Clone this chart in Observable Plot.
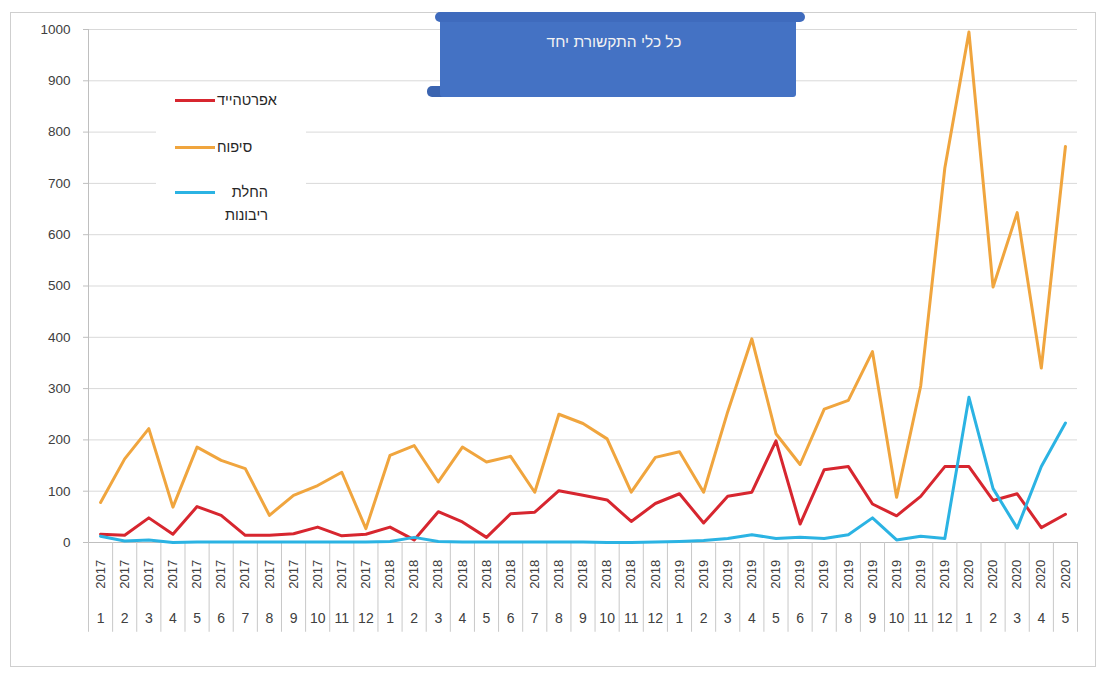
<!DOCTYPE html>
<html>
<head>
<meta charset="utf-8">
<script src="https://cdn.jsdelivr.net/npm/d3@7"></script>
<script src="https://cdn.jsdelivr.net/npm/@observablehq/plot@0.6"></script>
<style>
  body { margin: 0; background: #ffffff; }
  #wrap { position: relative; width: 1099px; height: 679px; overflow: hidden; font-family: "Liberation Sans", Arial, sans-serif; }
  #frame { position: absolute; left: 10px; top: 12px; width: 1086px; height: 655px; border: 1px solid #cfcfcf; box-sizing: border-box; }
  #chart { position: absolute; left: 0; top: 0; }
  #legend { position: absolute; left: 156px; top: 86px; width: 150px; height: 142px; background: #ffffff; }
  .lg-line { position: absolute; height: 3px; width: 40px; }
  .lg-text { position: absolute; direction: rtl; font-size: 14.5px; color: #262626; line-height: 23px; }
  #banner { position: absolute; left: 0; top: 0; }
</style>
</head>
<body>
<div id="wrap">
  <div id="frame"></div>
  <div id="chart"></div>
  <div id="legend"></div>
  <svg id="banner" width="1099" height="120"></svg>
</div>
<script>
const title = "כל כלי התקשורת יחד";
const seriesNames = ["אפרטהייד", "סיפוח", "החלת ריבונות"];
const seriesColors = ["#d7262f", "#f0a53e", "#2bb3e3"];

const years = [
  2017,2017,2017,2017,2017,2017,2017,2017,2017,2017,2017,2017,
  2018,2018,2018,2018,2018,2018,2018,2018,2018,2018,2018,2018,
  2019,2019,2019,2019,2019,2019,2019,2019,2019,2019,2019,2019,
  2020,2020,2020,2020,2020
];
const months = [
  1,2,3,4,5,6,7,8,9,10,11,12,
  1,2,3,4,5,6,7,8,9,10,11,12,
  1,2,3,4,5,6,7,8,9,10,11,12,
  1,2,3,4,5
];

// אפרטהייד
const apartheid = [
  16,14,48,16,70,53,14,14,17,30,13,16,
  30,5,60,40,10,56,59,101,92,83,41,76,
  95,38,90,98,198,36,142,148,75,52,90,148,
  148,82,95,29,55
];
// סיפוח
const annexation = [
  78,163,222,69,186,160,144,53,92,111,137,27,
  170,189,118,186,157,168,98,250,232,202,98,166,
  177,98,255,397,212,152,260,277,372,88,305,730,
  995,498,643,340,772
];
// החלת ריבונות
const sovereignty = [
  12,3,5,0,1,1,1,1,1,1,1,1,
  2,10,2,1,1,1,1,1,1,0,0,1,
  2,4,8,15,8,10,8,15,48,5,12,8,
  283,105,28,148,233
];

const yTicks = [0,100,200,300,400,500,600,700,800,900,1000];

const seriesValues = [apartheid, annexation, sovereignty];
const rows = [];
seriesValues.forEach((vals, s) => {
  vals.forEach((v, i) => rows.push({i, year: years[i], month: months[i], value: v, series: seriesNames[s]}));
});
const cats = years.map((y, i) => ({i, year: y, month: months[i]}));
const dividers = d3.range(years.length + 1).map(k => k - 0.5);

const chart = Plot.plot({
  width: 1099,
  height: 679,
  marginLeft: 88,
  marginRight: 22,
  marginTop: 29,
  marginBottom: 137,
  style: {background: "transparent", fontFamily: "'Liberation Sans', Arial, sans-serif", overflow: "visible"},
  x: {type: "linear", domain: [-0.5, years.length - 0.5], axis: null},
  y: {domain: [0, 1000], axis: null},
  color: {domain: seriesNames, range: seriesColors},
  marks: [
    Plot.gridY(yTicks, {stroke: "#d9d9d9", strokeOpacity: 1}),
    Plot.ruleY([0], {stroke: "#bfbfbf"}),
    Plot.ruleX(dividers, {y1: 0, y2: -175, stroke: "#c8c8c8"}),
    Plot.ruleX([-0.5], {y1: 0, y2: 1000, stroke: "#bfbfbf"}),
    Plot.axisY(yTicks, {label: null, tickFormat: d => String(d), tickSize: 5, tickPadding: 13, fontSize: 13.5, fill: "#404040", stroke: "#bfbfbf"}),
    Plot.line(rows, {x: "i", y: "value", z: "series", stroke: "series", strokeWidth: 3, strokeLinejoin: "round"}),
    Plot.text(cats, {x: "i", y: -62, text: d => String(d.year), rotate: -90, fontSize: 13, fill: "#404040"}),
    Plot.text(cats, {x: "i", y: -148, text: d => String(d.month), fontSize: 14, fill: "#404040"})
  ]
});
document.getElementById("chart").appendChild(chart);

// legend
const legend = document.getElementById("legend");
const lgY = [14, 61, 106];
seriesNames.forEach((name, k) => {
  const ln = document.createElement("div");
  ln.className = "lg-line";
  ln.style.left = "19px";
  ln.style.top = (lgY[k] - 1) + "px";
  ln.style.background = seriesColors[k];
  legend.appendChild(ln);
  const tx = document.createElement("div");
  tx.className = "lg-text";
  if (k === 2) {
    const parts = name.split(" ");
    tx.innerHTML = parts[0] + "<br>" + parts[1];
    tx.style.left = "58px";
    tx.style.top = (lgY[k] - 11) + "px";
    tx.style.width = "54px";
    tx.style.textAlign = "right";
  } else {
    tx.textContent = name;
    tx.style.left = "61px";
    tx.style.top = (lgY[k] - 11) + "px";
  }
  legend.appendChild(tx);
});

// title banner
const svg = d3.select("#banner");
const blue = "#4472c4";
svg.append("rect").attr("x", 427).attr("y", 86).attr("width", 22).attr("height", 11).attr("rx", 5).attr("fill", "#3b64b0");
svg.append("rect").attr("x", 440).attr("y", 17).attr("width", 356).attr("height", 80).attr("rx", 3).attr("fill", blue);
svg.append("rect").attr("x", 435).attr("y", 12).attr("width", 370).attr("height", 10).attr("rx", 5).attr("fill", "#3f6bbd");
svg.append("text").attr("x", 614).attr("y", 47).attr("text-anchor", "middle")
  .attr("fill", "#f3f3f3").attr("font-size", 15.5).attr("direction", "rtl")
  .attr("font-family", "'Liberation Sans', Arial, sans-serif").text(title);
</script>
</body>
</html>
